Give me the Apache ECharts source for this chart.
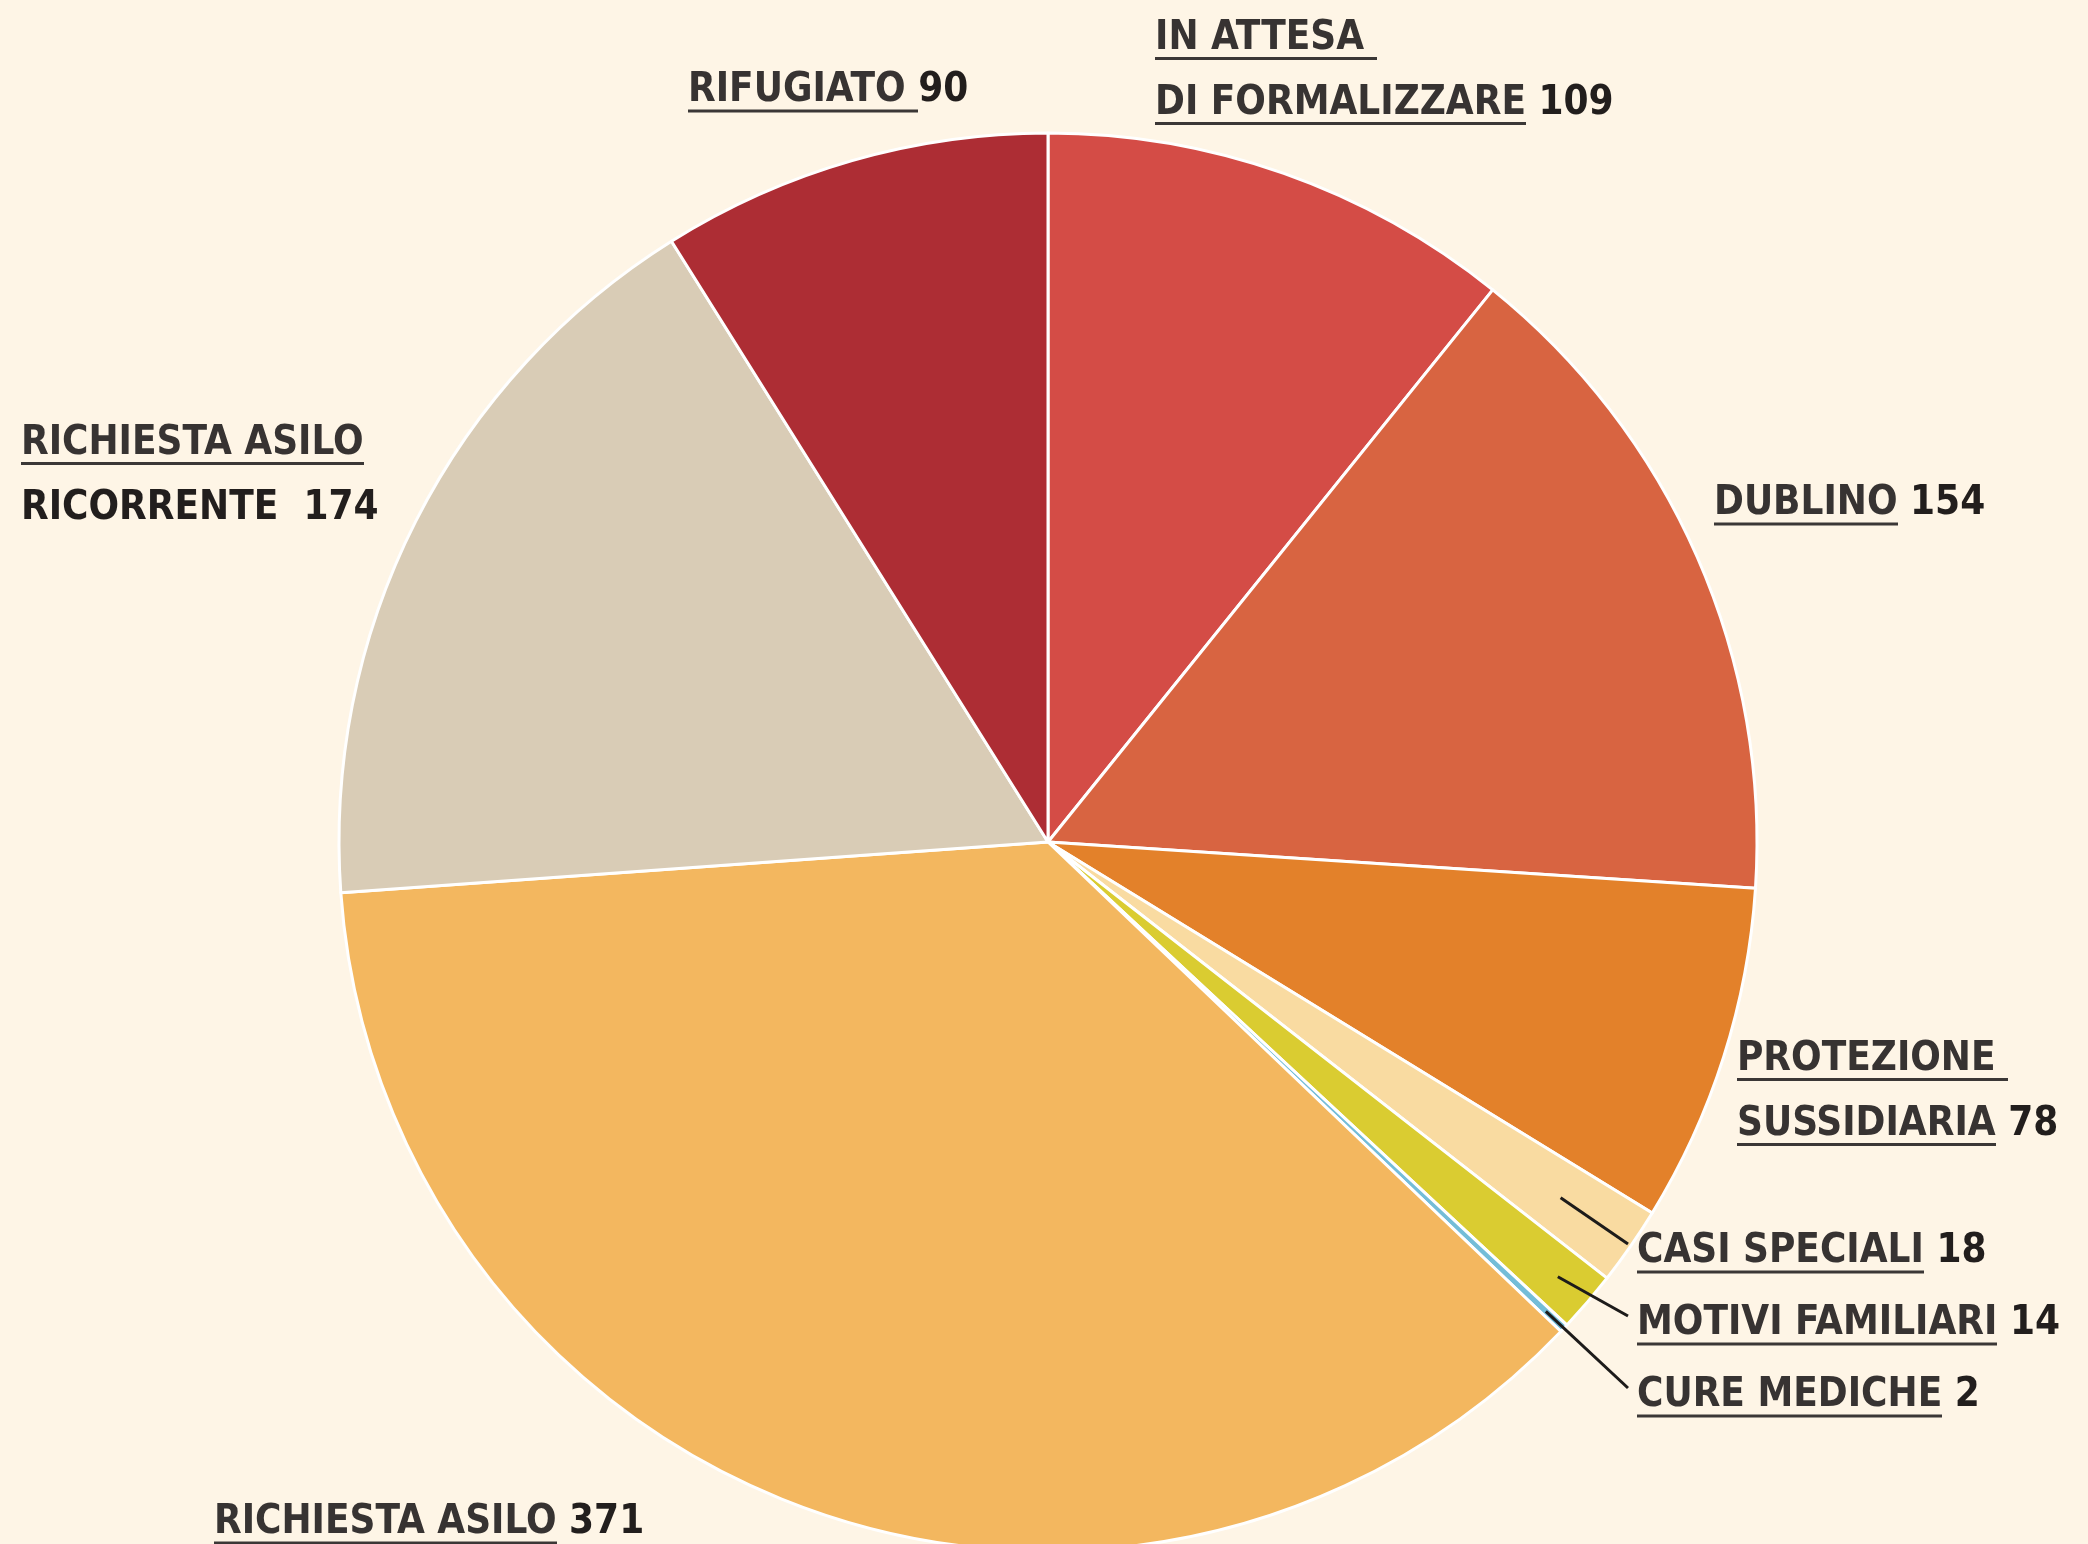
<!DOCTYPE html>
<html>
<head>
<meta charset="utf-8">
<script src="https://cdn.jsdelivr.net/npm/echarts@6/dist/echarts.min.js"></script>
<style>
	html, body { margin: 0; padding: 0; background: #fef5e6; }
	#chart { width: 2088px; height: 1544px; }
</style>
</head>
<body>
<div id="chart"></div>
<script>
// dati: permessi di soggiorno per tipo (ordine orario da ore 12)
var names = ['IN ATTESA \nDI FORMALIZZARE', 'DUBLINO', 'PROTEZIONE \nSUSSIDIARIA', 'CASI SPECIALI',
	'MOTIVI FAMILIARI', 'CURE MEDICHE', 'RICHIESTA ASILO', 'RICHIESTA ASILO\nRICORRENTE ', 'RIFUGIATO '];
var values = [109, 154, 78, 18, 14, 2, 371, 174, 90];
var colors = ['#d44c46', '#d86441', '#e3812a', '#f9dba1', '#dacc31', '#74bdd8', '#f3b75f', '#d9ccb6', '#ad2d34'];

// posizioni etichette (x sinistra, y centro)
var labelPos = [[1155, 71], [1714, 504], [1737, 1092], [1637, 1252], [1637, 1324], [1637, 1396],
	[214, 1523], [21, 476], [688, 91]];
// linee guida: punto di partenza come frazione del raggio (null = niente linea)
var lineStart = [null, null, null, 0.88, 0.945, 0.965, null, null, null];

var LINE_H = 65;
var FONT = '"DejaVu Sans Condensed", "Liberation Sans Narrow", sans-serif';
var FONT_SIZE = 40;
var CENTER = [1048, 842];
var RADIUS = 709;

function underlineImg() {
	var c = document.createElement('canvas');
	c.width = 8;
	c.height = LINE_H;
	var ctx = c.getContext('2d');
	ctx.fillStyle = '#3b3736';
	ctx.fillRect(0, 51, 8, 3);
	return c;
}

var chart = echarts.init(document.getElementById('chart'));

var pieData = values.map(function (v, i) {
	return { name: names[i], value: v, itemStyle: { color: colors[i] } };
});

// serie trasparente sopra la torta, porta etichette e linee guida
var labelData = values.map(function (v, i) {
	return { name: names[i], value: v, labelLine: { show: lineStart[i] != null } };
});

var option = {
	backgroundColor: '#fef5e6',
	animation: false,
	series: [
		{
			type: 'pie',
			center: CENTER,
			radius: RADIUS,
			startAngle: 90,
			clockwise: true,
			silent: true,
			z: 2,
			itemStyle: {
				borderColor: '#ffffff',
				borderWidth: 3
			},
			label: { show: false },
			labelLine: { show: false },
			data: pieData
		},
		{
			type: 'pie',
			center: CENTER,
			radius: RADIUS,
			startAngle: 90,
			clockwise: true,
			avoidLabelOverlap: false,
			silent: true,
			z: 3,
			itemStyle: {
				color: 'rgba(0,0,0,0)',
				borderWidth: 0
			},
			label: {
				show: true,
				position: 'outside',
				fontFamily: FONT,
				fontWeight: 'bold',
				fontSize: FONT_SIZE,
				lineHeight: LINE_H,
				formatter: function (p) {
					var lines = p.name.split('\n');
					var out = [];
					for (var i = 0; i < lines.length; i++) {
						var last = i === lines.length - 1;
						if (last && lines[i].indexOf('RICORRENTE') === 0) {
							out.push('{n|' + lines[i] + ' ' + p.value + '}');
						} else if (last) {
							out.push('{u|' + lines[i] + '}{n|' + (/ $/.test(lines[i]) ? '' : ' ') + p.value + '}');
						} else {
							out.push('{u|' + lines[i] + '}');
						}
					}
					return out.join('\n');
				},
				rich: {
					u: {
						color: '#373332',
						fontFamily: FONT,
						fontWeight: 'bold',
						fontSize: FONT_SIZE,
						height: LINE_H,
						lineHeight: LINE_H,
						backgroundColor: { image: underlineImg() }
					},
					n: {
						color: '#221e1d',
						fontFamily: FONT,
						fontWeight: 'bold',
						fontSize: FONT_SIZE,
						lineHeight: LINE_H
					}
				}
			},
			labelLine: {
				show: false,
				showAbove: true,
				length: 20,
				length2: 0,
				lineStyle: { color: '#1d1b1a', width: 3 }
			},
			labelLayout: function (params) {
				var i = params.dataIndex;
				var p = labelPos[i];
				var res = { x: p[0], y: p[1], align: 'left', verticalAlign: 'middle' };
				if (lineStart[i] != null) {
					// parte dal settore (layout di echarts) e arriva a sinistra dell'etichetta
					var lay = chart.getModel().getSeriesByIndex(1).getData().getItemLayout(i);
					var mid = (lay.startAngle + lay.endAngle) / 2;
					var rr = lay.r * lineStart[i];
					res.labelLinePoints = [
						[lay.cx + rr * Math.cos(mid), lay.cy + rr * Math.sin(mid)],
						[p[0] - 9, p[1] - 8]
					];
				}
				return res;
			},
			data: labelData
		}
	]
};

chart.setOption(option);
</script>
</body>
</html>
